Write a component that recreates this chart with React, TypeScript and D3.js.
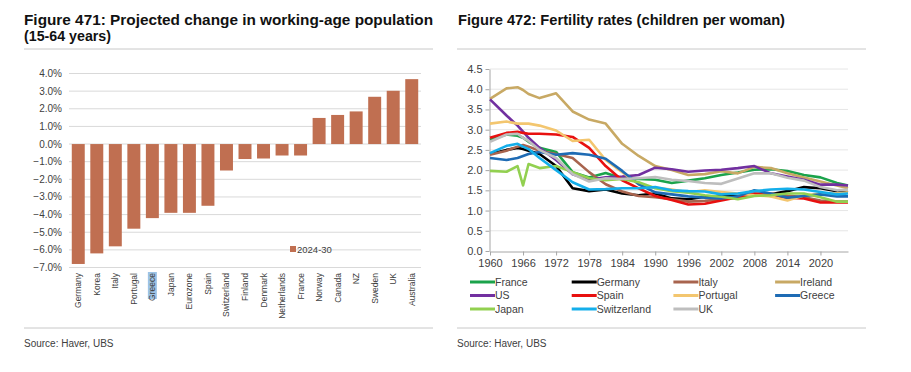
import React, { useEffect, useRef } from 'react';
import * as d3 from 'd3';

// Figure 471 data: projected change in working-age population, 2024-30
const countries = ['Germany', 'Korea', 'Italy', 'Portugal', 'Greece', 'Japan', 'Eurozone', 'Spain', 'Switzerland',
    'Finland', 'Denmark', 'Netherlands', 'France', 'Norway', 'Canada', 'NZ', 'Sweden', 'UK', 'Australia'];
const popChange = [-6.8, -6.2, -5.8, -4.8, -4.2, -3.9, -3.9, -3.5, -1.5,
    -0.85, -0.82, -0.65, -0.65, 1.48, 1.65, 1.85, 2.68, 3.02, 3.68];
const barTicks = [4, 3, 2, 1, 0, -1, -2, -3, -4, -5, -6, -7];

// Figure 472 data: fertility rates
const years = [1960, 1963, 1965, 1966, 1967, 1969, 1972, 1975, 1978, 1981, 1984, 1987, 1990,
    1993, 1996, 1999, 2002, 2005, 2008, 2011, 2014, 2017, 2020, 2023, 2025];
const france = [2.75, 2.88, 2.85, 2.80, 2.70, 2.55, 2.45, 1.95, 1.82, 1.93, 1.80, 1.78, 1.76,
    1.68, 1.74, 1.80, 1.88, 1.94, 2.01, 2.02, 1.98, 1.88, 1.82, 1.68, 1.62];
const germany = [2.40, 2.50, 2.55, 2.52, 2.48, 2.40, 2.10, 1.55, 1.48, 1.52, 1.42, 1.38, 1.42,
    1.30, 1.28, 1.34, 1.35, 1.36, 1.40, 1.40, 1.48, 1.58, 1.55, 1.48, 1.45];
const italy = [2.38, 2.48, 2.58, 2.62, 2.58, 2.48, 2.40, 2.30, 1.95, 1.65, 1.47, 1.36, 1.33,
    1.28, 1.22, 1.24, 1.28, 1.32, 1.42, 1.42, 1.37, 1.33, 1.25, 1.22, 1.22];
const ireland = [3.76, 4.02, 4.05, 3.98, 3.88, 3.78, 3.90, 3.45, 3.25, 3.15, 2.65, 2.35, 2.10,
    2.00, 1.88, 1.90, 1.97, 1.92, 2.08, 2.05, 1.92, 1.82, 1.72, 1.62, 1.55];
const us = [3.75, 3.35, 3.10, 2.95, 2.80, 2.55, 2.25, 1.90, 1.76, 1.82, 1.84, 1.88, 2.06,
    2.02, 1.96, 1.99, 2.01, 2.05, 2.10, 1.92, 1.84, 1.76, 1.64, 1.64, 1.62];
const spain = [2.80, 2.92, 2.95, 2.92, 2.90, 2.90, 2.88, 2.82, 2.55, 2.10, 1.75, 1.55, 1.36,
    1.26, 1.15, 1.17, 1.25, 1.33, 1.42, 1.36, 1.32, 1.30, 1.20, 1.20, 1.20];
const portugal = [3.15, 3.20, 3.15, 3.15, 3.15, 3.10, 2.98, 2.72, 2.75, 2.25, 1.95, 1.65, 1.56,
    1.52, 1.45, 1.50, 1.46, 1.42, 1.38, 1.35, 1.25, 1.37, 1.42, 1.42, 1.45];
const greece = [2.30, 2.25, 2.30, 2.35, 2.40, 2.45, 2.38, 2.42, 2.38, 2.28, 1.98, 1.65, 1.45,
    1.40, 1.35, 1.32, 1.30, 1.35, 1.50, 1.42, 1.32, 1.36, 1.40, 1.35, 1.35];
const japan = [1.98, 1.96, 2.10, 1.62, 2.15, 2.05, 2.10, 1.95, 1.80, 1.75, 1.78, 1.70, 1.55,
    1.48, 1.44, 1.38, 1.34, 1.28, 1.36, 1.38, 1.42, 1.42, 1.33, 1.22, 1.22];
const switzerland = [2.42, 2.60, 2.65, 2.58, 2.52, 2.30, 2.00, 1.70, 1.52, 1.53, 1.55, 1.55, 1.58,
    1.50, 1.48, 1.47, 1.40, 1.42, 1.48, 1.52, 1.54, 1.52, 1.46, 1.40, 1.42];
const uk = [2.70, 2.88, 2.90, 2.80, 2.72, 2.50, 2.30, 1.90, 1.72, 1.80, 1.78, 1.80, 1.83,
    1.76, 1.73, 1.68, 1.66, 1.79, 1.92, 1.92, 1.81, 1.74, 1.58, 1.50, 1.52];
const yearTicks = [1960, 1966, 1972, 1978, 1984, 1990, 1996, 2002, 2008, 2014, 2020];
const rateTicks = [0, 0.5, 1, 1.5, 2, 2.5, 3, 3.5, 4, 4.5];

const series = [
    { name: 'France', color: '#1BA34B', values: france },
    { name: 'Germany', color: '#000000', values: germany },
    { name: 'Italy', color: '#A8644E', values: italy },
    { name: 'Ireland', color: '#C8A964', values: ireland },
    { name: 'US', color: '#7230A0', values: us },
    { name: 'Spain', color: '#E8100F', values: spain },
    { name: 'Portugal', color: '#F3C66F', values: portugal },
    { name: 'Greece', color: '#1E6BB4', values: greece },
    { name: 'Japan', color: '#92D050', values: japan },
    { name: 'Switzerland', color: '#14AEEA', values: switzerland },
    { name: 'UK', color: '#BEBEBE', values: uk },
];

const FONT = '"Liberation Sans", Arial, sans-serif';
const TEXT = '#404040';

const App: React.FC = () => {
    const svgRef = useRef<SVGSVGElement>(null);

    useEffect(() => {
        if (!svgRef.current) return;
        const svg = d3.select(svgRef.current);
        svg.selectAll('*').remove();

        svg.append('rect').attr('width', 911).attr('height', 372).attr('fill', '#fff');

        // Titles and rules
        const title = (x: number, y: number, s: string, len: number) =>
            svg.append('text').attr('x', x).attr('y', y)
                .attr('font-family', FONT).attr('font-weight', 'bold').attr('font-size', 15)
                .attr('fill', '#111').attr('textLength', len).attr('lengthAdjust', 'spacingAndGlyphs')
                .text(s);
        title(24, 25, 'Figure 471: Projected change in working-age population', 409);
        title(24, 41, '(15-64 years)', 87);
        title(458, 25, 'Figure 472: Fertility rates (children per woman)', 327);

        [[24, 433], [457, 866]].forEach(([a, b]) => {
            svg.append('line').attr('x1', a).attr('x2', b).attr('y1', 49).attr('y2', 49)
                .attr('stroke', '#C8C8C8').attr('stroke-width', 1);
            svg.append('line').attr('x1', a).attr('x2', b).attr('y1', 328).attr('y2', 328)
                .attr('stroke', '#C8C8C8').attr('stroke-width', 1);
            svg.append('text').attr('x', a).attr('y', 347)
                .attr('font-family', FONT).attr('font-size', 10).attr('fill', TEXT)
                .text('Source: Haver, UBS');
        });

        // ---------- Left: bar chart ----------
        const x = d3.scaleBand<string>().domain(countries).range([69, 421])
            .paddingInner(0.3).paddingOuter(0.15);
        const y = d3.scaleLinear().domain([-7, 4]).range([267.5, 73.5]);

        const left = svg.append('g');
        left.selectAll('line.grid').data(barTicks).enter().append('line')
            .attr('x1', 69).attr('x2', 421)
            .attr('y1', d => y(d)).attr('y2', d => y(d))
            .attr('stroke', '#D9D9D9').attr('stroke-width', 1);

        left.selectAll('text.ytick').data(barTicks).enter().append('text')
            .attr('x', 62).attr('y', d => y(d)).attr('dy', '0.35em')
            .attr('text-anchor', 'end')
            .attr('font-family', FONT).attr('font-size', 10).attr('fill', TEXT)
            .text(d => d3.format('.1f')(d) + '%');

        left.selectAll('rect.bar').data(popChange).enter().append('rect')
            .attr('x', (_, i) => x(countries[i])!)
            .attr('width', x.bandwidth())
            .attr('y', d => y(Math.max(0, d)))
            .attr('height', d => Math.abs(y(d) - y(0)))
            .attr('fill', '#C06F51');

        // Greece label highlight
        left.append('rect')
            .attr('x', x('Greece')! + x.bandwidth() / 2 - 4.5).attr('y', 272)
            .attr('width', 9).attr('height', 27).attr('fill', '#9DC3E6');

        left.selectAll('text.xlab').data(countries).enter().append('text')
            .attr('transform', d => `translate(${x(d)! + x.bandwidth() / 2 + 3},273) rotate(-90)`)
            .attr('text-anchor', 'end')
            .attr('font-family', FONT).attr('font-size', 8.5).attr('fill', TEXT)
            .text(d => d);

        left.append('rect').attr('x', 290).attr('y', 246).attr('width', 6).attr('height', 6)
            .attr('fill', '#C06F51');
        left.append('text').attr('x', 297).attr('y', 252.5)
            .attr('font-family', FONT).attr('font-size', 9.5).attr('fill', TEXT)
            .text('2024-30');

        // ---------- Right: line chart ----------
        const xr = d3.scaleLinear().domain([1960, 2025]).range([490, 848]);
        const yr = d3.scaleLinear().domain([0, 4.5]).range([251, 69]);

        const right = svg.append('g');
        right.selectAll('line.grid').data(rateTicks.filter(d => d > 0)).enter().append('line')
            .attr('x1', 490).attr('x2', 848)
            .attr('y1', d => yr(d)).attr('y2', d => yr(d))
            .attr('stroke', '#E6E6E6').attr('stroke-width', 1);

        const yAxis = right.append('g').attr('transform', 'translate(489.5,0)')
            .call(d3.axisLeft(yr).tickValues(rateTicks).tickSize(4).tickSizeOuter(0).tickPadding(3)
                .tickFormat(d3.format('.1f')));
        const xAxis = right.append('g').attr('transform', 'translate(0,251.5)')
            .call(d3.axisBottom(xr).tickValues(yearTicks).tickSize(4).tickSizeOuter(0).tickPadding(4)
                .tickFormat(d3.format('d')));
        [yAxis, xAxis].forEach(a => {
            a.select('.domain').attr('stroke', '#A6A6A6');
            a.selectAll('line').attr('stroke', '#A6A6A6');
            a.selectAll('text').attr('font-family', FONT).attr('font-size', 11).attr('fill', TEXT);
        });

        const line = d3.line<number>()
            .x((_, i) => xr(years[i]))
            .y(d => yr(d));

        right.selectAll('path.series').data(series).enter().append('path')
            .attr('d', d => line(d.values))
            .attr('fill', 'none')
            .attr('stroke', d => d.color)
            .attr('stroke-width', 2.6)
            .attr('stroke-linejoin', 'round');

        // Legend
        const leg = right.selectAll('g.leg').data(series).enter().append('g')
            .attr('transform', (_, i) => `translate(${470 + (i % 4) * 101.7},${282 + Math.floor(i / 4) * 13.5})`);
        leg.append('line').attr('x1', 0).attr('x2', 25).attr('y1', 0).attr('y2', 0)
            .attr('stroke', d => d.color).attr('stroke-width', 3);
        leg.append('text').attr('x', 25).attr('y', 0).attr('dy', '0.35em')
            .attr('font-family', FONT).attr('font-size', 10.5).attr('fill', TEXT)
            .text(d => d.name);
    }, []);

    return (
        <svg ref={svgRef} width={911} height={372}
            style={{ position: 'absolute', left: 0, top: 0, display: 'block' }}></svg>
    );
};

export default App;
